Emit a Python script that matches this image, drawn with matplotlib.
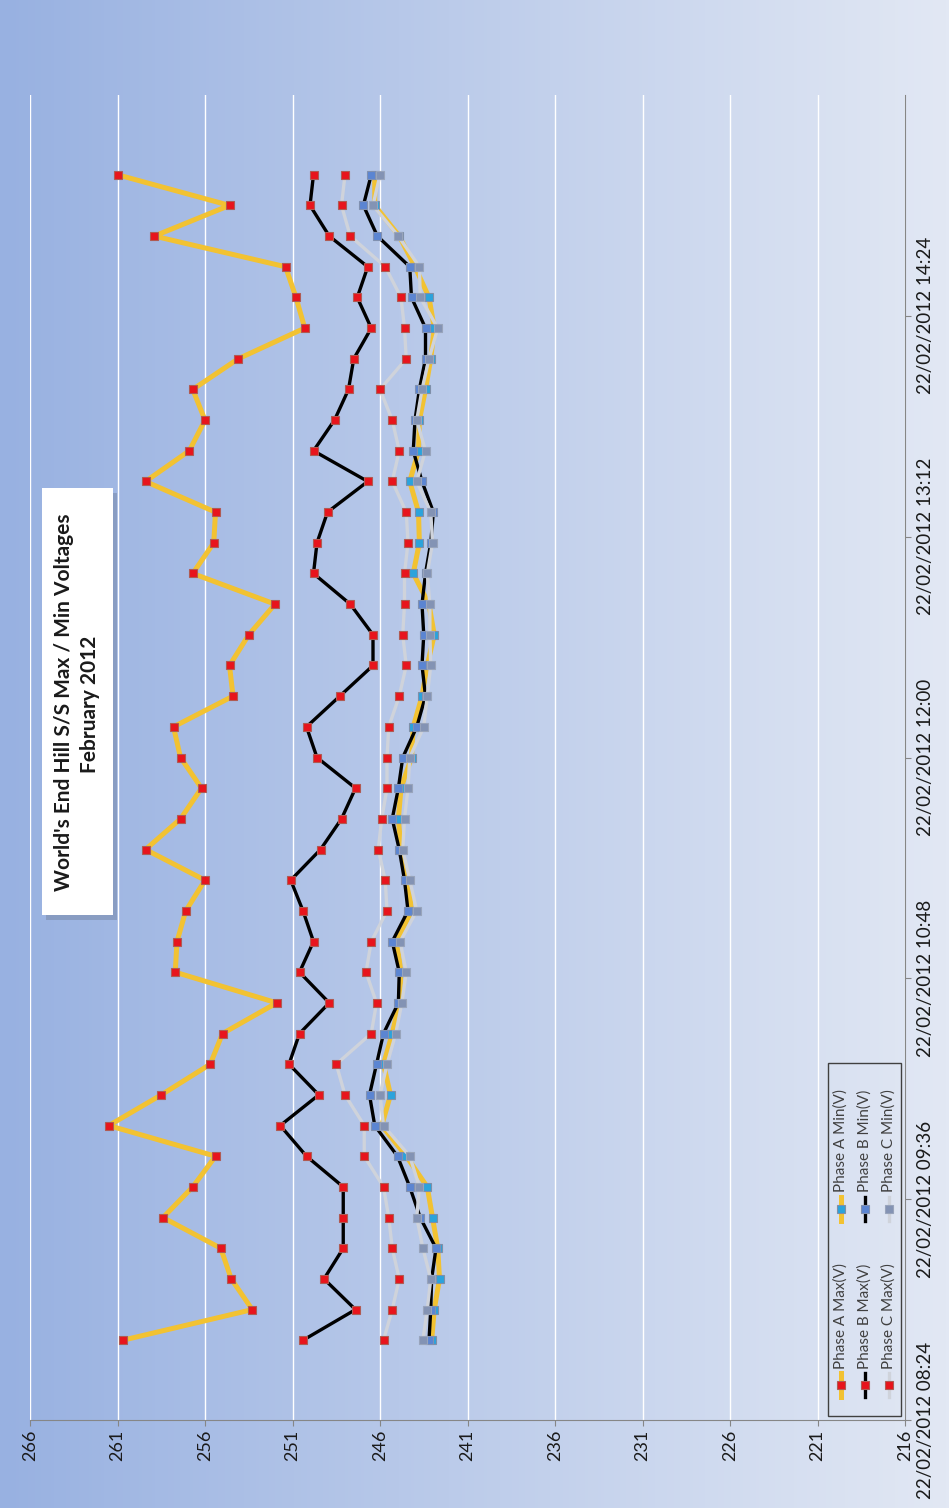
import numpy as np
import matplotlib.pyplot as plt
import matplotlib.dates as mdates
from matplotlib.patches import Rectangle
from matplotlib.lines import Line2D
from datetime import datetime

plt.rcParams['font.family'] = ['Lato', 'DejaVu Sans']

# readings every 10 minutes on 22/02/2012
times = ["08:50", "09:00", "09:10", "09:20", "09:30", "09:40", "09:50",
         "10:00", "10:10", "10:20", "10:30", "10:40", "10:50",
         "11:00", "11:10", "11:20", "11:30", "11:40", "11:50",
         "12:00", "12:10", "12:20", "12:30", "12:40", "12:50",
         "13:00", "13:10", "13:20", "13:30", "13:40", "13:50",
         "14:00", "14:10", "14:20", "14:30", "14:40", "14:50",
         "15:00", "15:10"]

phase_a_max = [260.7, 253.3, 254.5, 255.1, 258.4, 256.7, 255.4, 261.5, 258.5, 255.7,
               255.0, 251.9, 257.7, 257.6, 257.1, 256.0, 259.4, 257.4, 256.2, 257.4,
               257.8, 254.4, 254.6, 253.5, 252.0, 256.7, 255.5, 255.4, 259.4, 256.9,
               256.0, 256.7, 254.1, 250.3, 250.8, 251.4, 258.9, 254.6, 261.0]
phase_a_min = [243.05, 242.9, 242.6, 242.7, 243.0, 243.3, 244.5, 245.9, 245.4, 245.8,
               245.3, 244.9, 244.8, 245.05, 244.2, 244.4, 244.8, 244.95, 244.8, 244.2,
               244.1, 243.6, 243.3, 242.9, 243.2, 244.1, 243.75, 243.8, 244.3, 243.8,
               243.75, 243.4, 243.1, 242.9, 243.2, 244.0, 244.9, 246.3, 246.3]
phase_b_max = [250.4, 247.4, 249.2, 248.1, 248.1, 248.1, 250.2, 251.7, 249.5, 251.2,
               250.6, 248.9, 250.6, 249.8, 250.4, 251.1, 249.4, 248.2, 247.4, 249.6,
               250.2, 248.3, 246.4, 246.4, 247.7, 249.8, 249.6, 249.0, 246.7, 249.8,
               248.6, 247.8, 247.5, 246.5, 247.3, 246.7, 248.9, 250.0, 249.8]
phase_b_min = [243.2, 243.1, 243.05, 242.8, 243.7, 244.3, 245.0, 246.3, 246.6, 246.2,
               245.8, 244.95, 244.9, 245.3, 244.4, 244.6, 244.9, 245.3, 244.95, 244.7,
               243.9, 243.4, 243.6, 243.5, 243.6, 243.4, 243.1, 242.95, 243.6, 244.1,
               244.0, 243.75, 243.4, 243.4, 244.2, 244.3, 246.15, 246.95, 246.5]
phase_c_max = [245.8, 245.3, 244.9, 245.3, 245.5, 245.8, 246.9, 246.9, 248.0, 248.5,
               246.5, 246.2, 246.8, 246.5, 245.6, 245.7, 246.1, 245.9, 245.6, 245.6,
               245.5, 244.9, 244.5, 244.7, 244.6, 244.6, 244.4, 244.5, 245.3, 244.9,
               245.3, 246.0, 244.5, 244.6, 244.8, 245.7, 247.7, 248.2, 248.0]
phase_c_min = [243.55, 243.3, 243.1, 243.55, 243.9, 243.75, 244.3, 245.8, 246.0, 245.6,
               245.1, 244.75, 244.5, 244.85, 243.9, 244.3, 244.7, 244.6, 244.4, 244.3,
               243.5, 243.3, 243.1, 243.15, 243.15, 243.3, 243.0, 243.1, 243.9, 243.4,
               243.9, 243.6, 243.2, 242.7, 243.7, 243.75, 244.95, 246.4, 246.0]

labels = ["Phase A Max(V)", "Phase A Min(V)", "Phase B Max(V)",
          "Phase B Min(V)", "Phase C Max(V)", "Phase C Min(V)"]

tt = [datetime.strptime("2012-02-22 " + s, "%Y-%m-%d %H:%M") for s in times]

W, H = 949, 1508
fig = plt.figure(figsize=(W / 100, H / 100), dpi=100)

def fx(px):
    return px / W

def fy(py):
    return 1 - py / H

# blue gradient behind everything
bg = fig.add_axes([0, 0, 1, 1], zorder=-10)
bg.axis('off')
c0 = np.array([0x98, 0xb1, 0xe1]) / 255
c1 = np.array([0xe2, 0xe8, 0xf4]) / 255
t = np.linspace(0, 1, 300)
grad = c0[None, None, :] * (1 - t)[None, :, None] + c1[None, None, :] * t[None, :, None]
bg.imshow(grad, aspect='auto', extent=[0, 1, 0, 1])

ax = fig.add_axes([fx(30), fy(1420), fx(875), 1325 / H])
ax.patch.set_alpha(0)

yel, blk, gry = '#f2c232', '#000000', '#cfd3db'
red, red_edge = '#e8141c', '#b05a52'
styles = [
    (phase_a_max, yel, 3.6, red, red_edge),
    (phase_a_min, yel, 3.6, '#2ba3dc', '#7f8fa8'),
    (phase_b_max, blk, 2.4, red, red_edge),
    (phase_b_min, blk, 2.4, '#5b85d2', '#8090b0'),
    (phase_c_max, gry, 2.4, red, red_edge),
    (phase_c_min, gry, 2.4, '#8393b4', '#98a4bb'),
]
for (vals, lc, lw, mf, me), lab in zip(styles, labels):
    ax.plot(vals, tt, color=lc, lw=lw, marker='s', ms=5.8, mfc=mf, mec=me,
            mew=0.8, label=lab, solid_joinstyle='round')

ax.set_xlim(266, 216)
ax.set_xticks(range(216, 267, 5))
ax.set_ylim(datetime(2012, 2, 22, 8, 24), datetime(2012, 2, 22, 15, 36))
ax.set_yticks([datetime(2012, 2, 22, 8, 24), datetime(2012, 2, 22, 9, 36),
               datetime(2012, 2, 22, 10, 48), datetime(2012, 2, 22, 12, 0),
               datetime(2012, 2, 22, 13, 12), datetime(2012, 2, 22, 14, 24)])
ax.yaxis.set_major_formatter(mdates.DateFormatter('%d/%m/%Y %H:%M'))
ax.yaxis.tick_right()
ax.grid(axis='x', color='white', lw=1)
ax.set_axisbelow(True)

for side in ['left', 'top']:
    ax.spines[side].set_visible(False)
for side in ['right', 'bottom']:
    ax.spines[side].set_color('#868686')

ax.tick_params(axis='x', labelrotation=90, length=4, pad=3, color='#868686',
               labelsize=13, labelcolor='#1a1a1a')
ax.tick_params(axis='y', labelrotation=90, length=4, pad=5, color='#868686',
               labelsize=13.5, labelcolor='#1a1a1a')
for lb in ax.get_yticklabels():
    lb.set_va('center')

# title box with drop shadow
fig.add_artist(Rectangle((fx(46), fy(920)), fx(71), 427 / H, transform=fig.transFigure,
                         facecolor='#6f7f9c', alpha=0.45, edgecolor='none'))
fig.add_artist(Rectangle((fx(42), fy(915)), fx(71), 427 / H, transform=fig.transFigure,
                         facecolor='white', edgecolor='none'))
fig.text(fx(64), fy(702), "World's End Hill S/S Max / Min Voltages", rotation=90,
         ha='center', va='center', fontsize=15, fontweight='bold', color='#1a1a1a')
fig.text(fx(90), fy(704), "February 2012", rotation=90,
         ha='center', va='center', fontsize=15, fontweight='bold', color='#1a1a1a')

# legend, laid out by hand in the turned frame
fig.add_artist(Rectangle((fx(828), fy(1416)), fx(73), 353 / H, transform=fig.transFigure,
                         facecolor='none', edgecolor='#404040', lw=1))
rows_x = [841, 865, 889]
cols_y = [1385, 1209]
text_y = [1369, 1192]
for k, ((vals, lc, lw, mf, me), lab) in enumerate(zip(styles, labels)):
    col, row = k % 2, k // 2
    x, y = fx(rows_x[row]), cols_y[col]
    fig.add_artist(Line2D([x, x], [fy(y + 12), fy(y - 12)], color=lc, lw=lw,
                          transform=fig.transFigure))
    fig.add_artist(Line2D([x], [fy(y)], marker='s', ms=5.8, mfc=mf, mec=me, mew=0.8,
                          transform=fig.transFigure))
    fig.text(x, fy(text_y[col]), lab, rotation=90, ha='center', va='bottom',
             fontsize=11, color='#404040')

fig.savefig('out.png', dpi=100)
